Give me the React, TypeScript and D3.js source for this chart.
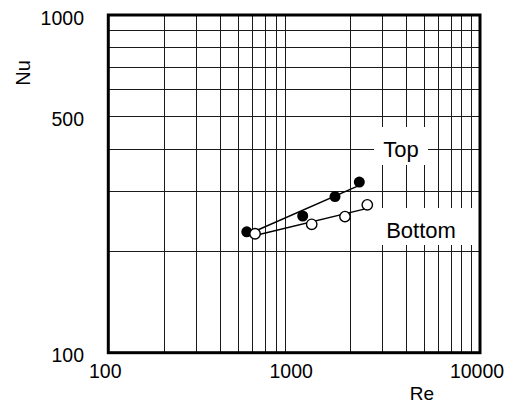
import React from 'react';
import * as d3 from 'd3';

// Re / Nu readings, log-log plot
const reTop = [556, 1112, 1659, 2242];
const nuTop = [228, 254, 290, 320];
const reBottom = [616, 1243, 1877, 2475];
const nuBottom = [225, 240, 253, 274];

const reTicks = [100, 1000, 10000];
const nuTicks = [100, 500, 1000];
const reGrid = [200, 300, 400, 500, 600, 700, 800, 900, 2000, 3000, 4000, 5000, 6000, 7000, 8000, 9000];
const nuGrid = [200, 300, 400, 500, 600, 700, 800, 900];

const W = 513;
const H = 405;
const m = { left: 108.3, right: 480, top: 15, bottom: 352.7 };
const font = "'Liberation Sans', Arial, Helvetica, sans-serif";

// least squares in log space -> straight line on the plot
function fit(xs: number[], ys: number[]) {
  const lx = xs.map(Math.log10);
  const ly = ys.map(Math.log10);
  const mx = d3.mean(lx)!;
  const my = d3.mean(ly)!;
  let sxy = 0;
  let sxx = 0;
  lx.forEach((v, i) => {
    sxy += (v - mx) * (ly[i] - my);
    sxx += (v - mx) * (v - mx);
  });
  const b = sxy / sxx;
  const ends = [d3.min(xs)!, d3.max(xs)!];
  return ends.map((x) => [x, Math.pow(10, my + b * (Math.log10(x) - mx))] as [number, number]);
}

export default function App() {
  const x = d3.scaleLog().domain([100, 10000]).range([m.left, m.right]);
  const y = d3.scaleLog().domain([100, 1000]).range([m.bottom, m.top]);
  const line = d3
    .line<[number, number]>()
    .x((d) => x(d[0]))
    .y((d) => y(d[1]));

  const topLine = fit(reTop, nuTop);
  const bottomLine = fit(reBottom, nuBottom);

  return (
    <div style={{ position: 'absolute', left: 0, top: 0 }}>
      <svg width={W} height={H} style={{ display: 'block', background: '#fff' }}>
        <g stroke="#1a1a1a" strokeWidth={1} shapeRendering="crispEdges">
          {reGrid.map((v) => (
            <line key={'x' + v} x1={x(v)} x2={x(v)} y1={m.top} y2={m.bottom} />
          ))}
          {nuGrid.map((v) => (
            <line key={'y' + v} x1={m.left} x2={m.right} y1={y(v)} y2={y(v)} />
          ))}
        </g>

        {/* label boxes blank out the grid */}
        <rect x={374} y={127} width={54} height={38} fill="#fff" />
        <rect x={374} y={208} width={102} height={37} fill="#fff" />

        <path d={line(topLine)!} fill="none" stroke="#000" strokeWidth={1.5} />
        <path d={line(bottomLine)!} fill="none" stroke="#000" strokeWidth={1.5} />

        {reTop.map((v, i) => (
          <circle key={'t' + i} cx={x(v)} cy={y(nuTop[i])} r={5.5} fill="#000" />
        ))}
        {reBottom.map((v, i) => (
          <circle key={'b' + i} cx={x(v)} cy={y(nuBottom[i])} r={5.2} fill="#fff" stroke="#000" strokeWidth={1.4} />
        ))}

        <rect
          x={m.left}
          y={m.top}
          width={m.right - m.left}
          height={m.bottom - m.top}
          fill="none"
          stroke="#000"
          strokeWidth={3}
        />

        <g fontFamily={font} fill="#000">
          {nuTicks.map((v) => (
            <text key={'ny' + v} x={84} y={y(v) + 9.5} fontSize={19.5} textAnchor="end">
              {v}
            </text>
          ))}
          {reTicks.map((v) => (
            <text key={'rx' + v} x={x(v) - 3} y={378} fontSize={19.5} textAnchor="middle">
              {v}
            </text>
          ))}
          <text x={422} y={400} fontSize={19} textAnchor="middle">
            Re
          </text>
          <text transform="translate(29.5,73) rotate(-90)" fontSize={20} textAnchor="middle">
            Nu
          </text>
          <text x={401} y={157} fontSize={22} textAnchor="middle">
            Top
          </text>
          <text x={421} y={238} fontSize={22} textAnchor="middle">
            Bottom
          </text>
        </g>
      </svg>
    </div>
  );
}
